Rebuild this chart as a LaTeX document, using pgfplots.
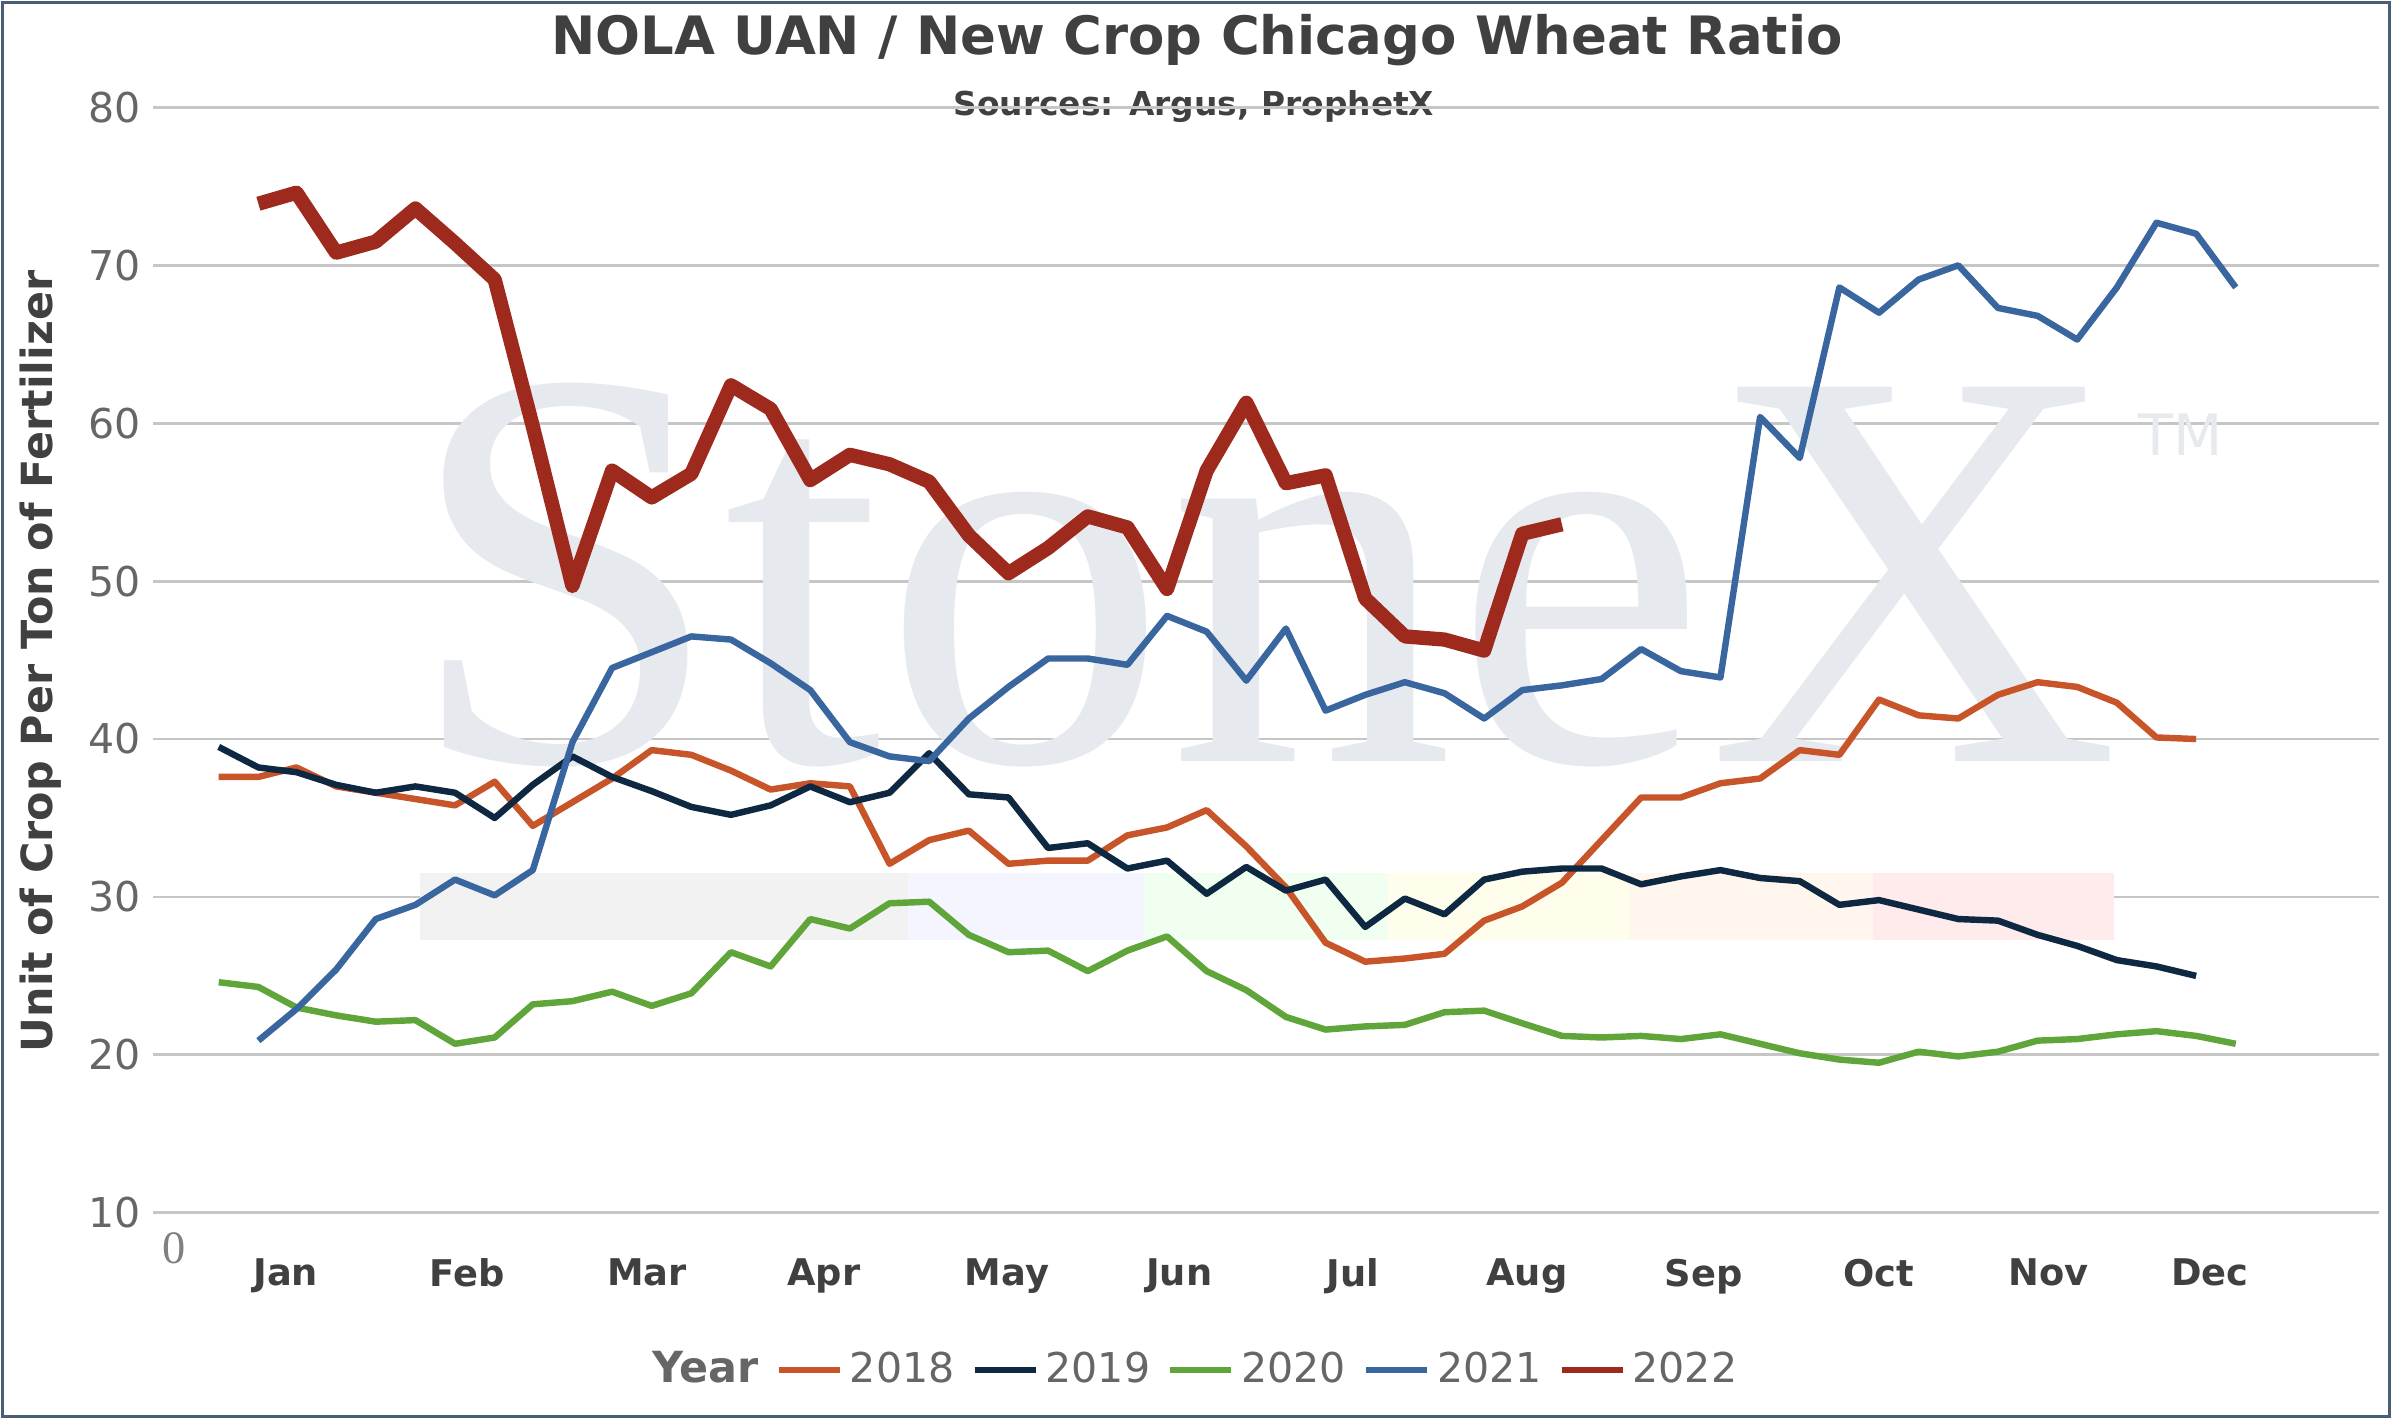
\documentclass[border=0pt]{standalone}
\usepackage{pgfplots}
\pgfplotsset{compat=1.18}
\usepackage{fontspec}
\setmainfont{DejaVu Sans}
\newfontfamily\wm{Liberation Serif}
\definecolor{c18}{HTML}{C8552A}
\definecolor{c19}{HTML}{0E2841}
\definecolor{c20}{HTML}{5FA53A}
\definecolor{c21}{HTML}{3A66A0}
\definecolor{c22}{HTML}{9E2A1E}
\definecolor{txt}{HTML}{404040}
\definecolor{frm}{HTML}{4A5F75}
\definecolor{wmc}{HTML}{E6E9EE}
\begin{document}
\begin{tikzpicture}
\draw[white] (0,0) rectangle (235.2mm,139.5mm);
\draw[frm,line width=0.8pt] (0.2mm,0.2mm) rectangle (235mm,139.3mm);
\node[font=\bfseries\fontsize{14.8}{17}\selectfont,text=txt] at (117.7mm,135.6mm) {NOLA UAN / New Crop Chicago Wheat Ratio};
\node[font=\bfseries\fontsize{9.2}{11}\selectfont,text=txt] at (117.4mm,129.1mm) {Sources: Argus, ProphetX};
\node[font=\wm\fontsize{13}{13}\selectfont,text=gray] at (17.1mm,16.8mm) {0};
\node[rotate=90,font=\bfseries\fontsize{12}{14}\selectfont,text=txt] at (3.9mm,74.5mm) {Unit of Crop Per Ton of Fertilizer};
\begin{axis}[at={(15mm,20.25mm)},anchor=south west,
  width=219mm,height=108.75mm,scale only axis,
  xmin=100,xmax=1560,ymin=10,ymax=80,
  axis line style={draw=none},
  ytick={10,20,...,80},ymajorgrids,grid style={gray!45,line width=0.8pt},
  xtick={187,306,424,540,660,773,887,1001,1117,1232,1343,1449},
  xticklabels={Jan,Feb,Mar,Apr,May,Jun,Jul,Aug,Sep,Oct,Nov,Dec},
  x tick label style={font=\bfseries\fontsize{10.3}{12}\selectfont,text=txt,yshift=-3.3mm},
  y tick label style={font=\fontsize{11.5}{13}\selectfont,text=gray!80!black},
  /pgf/number format/assume math mode=true,
  major tick length=0pt,
  legend columns=-1,
  legend style={at={(0.468,-0.142)},anchor=center,draw=none,fill=none,font=\fontsize{11.5}{13}\selectfont,text=gray!80!black,/tikz/every even column/.append style={column sep=1mm}},
  legend image code/.code={\draw[#1,line width=1.6pt] (0cm,0cm) -- (0.6cm,0cm);},
  no markers, line join=round]
\node[text=wmc,font=\wm\fontsize{160}{160}\selectfont,anchor=base] at (axis cs:828,38.6) {StoneX};
\node[text=wmc,font=\fontsize{16}{16}\selectfont] at (axis cs:1430,59.3) {TM};
\fill[gray!10] (axis cs:275,27.3) rectangle (axis cs:595,31.5);
\fill[blue!4] (axis cs:595,27.3) rectangle (axis cs:750,31.5);
\fill[green!6] (axis cs:750,27.3) rectangle (axis cs:910,31.5);
\fill[yellow!7] (axis cs:910,27.3) rectangle (axis cs:1068,31.5);
\fill[orange!7] (axis cs:1068,27.3) rectangle (axis cs:1228,31.5);
\fill[red!8] (axis cs:1228,27.3) rectangle (axis cs:1386,31.5);
\addlegendimage{empty legend}\addlegendentry{\textbf{\fontsize{12}{13}\selectfont Year}}
\addplot[c18,line width=1.8pt] coordinates {(143,37.6)(169,37.6)(194,38.2)(220,37.0)(246,36.6)(272,36.2)(298,35.8)(324,37.3)(349,34.5)(375,36.0)(401,37.5)(427,39.3)(453,39.0)(479,38.0)(505,36.8)(531,37.2)(557,37.0)(583,32.1)(609,33.6)(635,34.2)(661,32.1)(687,32.3)(713,32.3)(739,33.9)(765,34.4)(791,35.5)(817,33.2)(843,30.6)(869,27.1)(895,25.9)(921,26.1)(947,26.4)(973,28.5)(998,29.4)(1024,30.9)(1050,33.6)(1076,36.3)(1102,36.3)(1128,37.2)(1154,37.5)(1180,39.3)(1206,39.0)(1232,42.5)(1258,41.5)(1284,41.3)(1310,42.8)(1336,43.6)(1362,43.3)(1388,42.3)(1414,40.1)(1440,40.0)};
\addlegendentry{2018}
\addplot[c19,line width=1.8pt] coordinates {(143,39.5)(169,38.2)(194,37.9)(220,37.1)(246,36.6)(272,37.0)(298,36.6)(324,35.0)(349,37.1)(375,38.9)(401,37.6)(427,36.7)(453,35.7)(479,35.2)(505,35.8)(531,37.0)(557,36.0)(583,36.6)(609,39.1)(635,36.5)(661,36.3)(687,33.1)(713,33.4)(739,31.8)(765,32.3)(791,30.2)(817,31.9)(843,30.4)(869,31.1)(895,28.1)(921,29.9)(947,28.9)(973,31.1)(998,31.6)(1024,31.8)(1050,31.8)(1076,30.8)(1102,31.3)(1128,31.7)(1154,31.2)(1180,31.0)(1206,29.5)(1232,29.8)(1258,29.2)(1284,28.6)(1310,28.5)(1336,27.6)(1362,26.9)(1388,26.0)(1414,25.6)(1440,25.0)};
\addlegendentry{2019}
\addplot[c20,line width=1.8pt] coordinates {(143,24.6)(169,24.3)(194,23.0)(220,22.5)(246,22.1)(272,22.2)(298,20.7)(324,21.1)(349,23.2)(375,23.4)(401,24.0)(427,23.1)(453,23.9)(479,26.5)(505,25.6)(531,28.6)(557,28.0)(583,29.6)(609,29.7)(635,27.6)(661,26.5)(687,26.6)(713,25.3)(739,26.6)(765,27.5)(791,25.3)(817,24.1)(843,22.4)(869,21.6)(895,21.8)(921,21.9)(947,22.7)(973,22.8)(998,22.0)(1024,21.2)(1050,21.1)(1076,21.2)(1102,21.0)(1128,21.3)(1154,20.7)(1180,20.1)(1206,19.7)(1232,19.5)(1258,20.2)(1284,19.9)(1310,20.2)(1336,20.9)(1362,21.0)(1388,21.3)(1414,21.5)(1440,21.2)(1466,20.7)};
\addlegendentry{2020}
\addplot[c21,line width=1.8pt] coordinates {(169,20.9)(194,22.9)(220,25.4)(246,28.6)(272,29.5)(298,31.1)(324,30.1)(349,31.7)(375,39.8)(401,44.5)(427,45.5)(453,46.5)(479,46.3)(505,44.8)(531,43.1)(557,39.8)(583,38.9)(609,38.6)(635,41.3)(661,43.3)(687,45.1)(713,45.1)(739,44.7)(765,47.8)(791,46.8)(817,43.7)(843,47.0)(869,41.8)(895,42.8)(921,43.6)(947,42.9)(973,41.3)(998,43.1)(1024,43.4)(1050,43.8)(1076,45.7)(1102,44.3)(1128,43.9)(1154,60.4)(1180,57.8)(1206,68.6)(1232,67.0)(1258,69.1)(1284,70.0)(1310,67.3)(1336,66.8)(1362,65.3)(1388,68.6)(1414,72.7)(1440,72.0)(1466,68.6)};
\addlegendentry{2021}
\addplot[c22,line width=4pt] coordinates {(169,73.9)(194,74.6)(220,70.8)(246,71.5)(272,73.6)(298,71.4)(324,69.1)(349,59.8)(375,49.7)(401,57.0)(427,55.3)(453,56.8)(479,62.4)(505,60.9)(531,56.4)(557,58.0)(583,57.4)(609,56.3)(635,52.9)(661,50.5)(687,52.1)(713,54.1)(739,53.4)(765,49.5)(791,57.0)(817,61.3)(843,56.2)(869,56.7)(895,48.9)(921,46.5)(947,46.3)(973,45.6)(998,53.0)(1024,53.6)};
\addlegendentry{2022}
\end{axis}
\end{tikzpicture}
\end{document}
